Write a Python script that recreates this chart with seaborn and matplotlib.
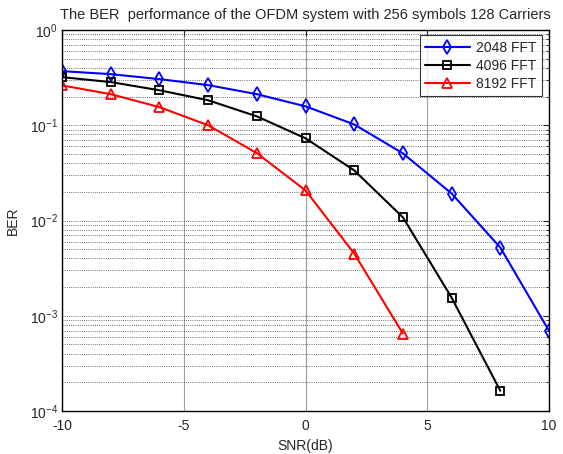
import matplotlib
matplotlib.use("Agg")
import matplotlib.pyplot as plt
import seaborn as sns
from matplotlib.ticker import LogLocator, NullFormatter

snr = [-10, -8, -6, -4, -2, 0, 2, 4, 6, 8, 10]
ber_2048 = [0.37, 0.344, 0.305, 0.264, 0.212, 0.158, 0.102, 0.0507, 0.0192, 0.0052, 0.000695]
ber_4096 = [0.32, 0.284, 0.233, 0.183, 0.124, 0.073, 0.0336, 0.0108, 0.00155, 0.000163]
ber_8192 = [0.262, 0.212, 0.155, 0.1, 0.051, 0.0207, 0.0045, 0.00065]
labels = ["2048 FFT", "4096 FFT", "8192 FFT"]

sns.set_style("white")
plt.rcParams["font.family"] = ["Liberation Sans", "DejaVu Sans"]
plt.rcParams["mathtext.fontset"] = "custom"
plt.rcParams["mathtext.rm"] = "Liberation Sans"
plt.rcParams["axes.unicode_minus"] = False

fig = plt.figure(figsize=(5.63, 4.54), dpi=100)
ax = fig.add_axes([62 / 563, 43 / 454, 487 / 563, 381 / 454])

series = [
    (ber_2048, "blue", "d", 7.5),
    (ber_4096, "black", "s", 5.5),
    (ber_8192, "red", "^", 6.5),
]
for (vals, col, mk, size), lab in zip(series, labels):
    sns.lineplot(x=snr[:len(vals)], y=vals, ax=ax, color=col, marker=mk,
                 mfc="none", mec=col, mew=1.3, ms=size, lw=1.5, label=lab)

ax.set_yscale("log")
ax.set_xlim(-10, 10)
ax.set_ylim(1e-4, 1)
ax.set_xticks([-10, -5, 0, 5, 10])
ax.yaxis.set_major_locator(LogLocator(base=10, numticks=10))
ax.yaxis.set_minor_locator(LogLocator(base=10, subs=range(2, 10), numticks=20))
ax.yaxis.set_minor_formatter(NullFormatter())

ax.grid(True, which="major", axis="x", color="#a0a0a0", lw=0.8, ls="-")
ax.grid(True, which="both", axis="y", color="#404040", lw=0.6, ls=(0, (1, 1.6)))
ax.set_axisbelow(True)

ax.tick_params(which="both", direction="in", top=True, right=True, labelsize=10)
ax.tick_params(which="major", length=4)
ax.tick_params(which="minor", length=2)
ax.tick_params(axis="x", pad=6)
ax.tick_params(axis="y", pad=3)
for sp in ax.spines.values():
    sp.set_color("black")
    sp.set_linewidth(1.0)

ax.set_xlabel("SNR(dB)", fontsize=10, labelpad=4)
ax.set_ylabel("BER", fontsize=10, labelpad=7)
ax.set_title("The BER  performance of the OFDM system with 256 symbols 128 Carriers",
             fontsize=10.5, pad=8)

leg = ax.legend(loc="upper right", fontsize=10, frameon=True, fancybox=False,
                bbox_to_anchor=(1 - 7 / 487, 1 - 5 / 381), borderaxespad=0,
                handlelength=3.2, handletextpad=0.45, labelspacing=0.3,
                borderpad=0.4)
leg.get_frame().set_edgecolor("black")
leg.get_frame().set_linewidth(0.8)

fig.savefig("out.png", dpi=100)
